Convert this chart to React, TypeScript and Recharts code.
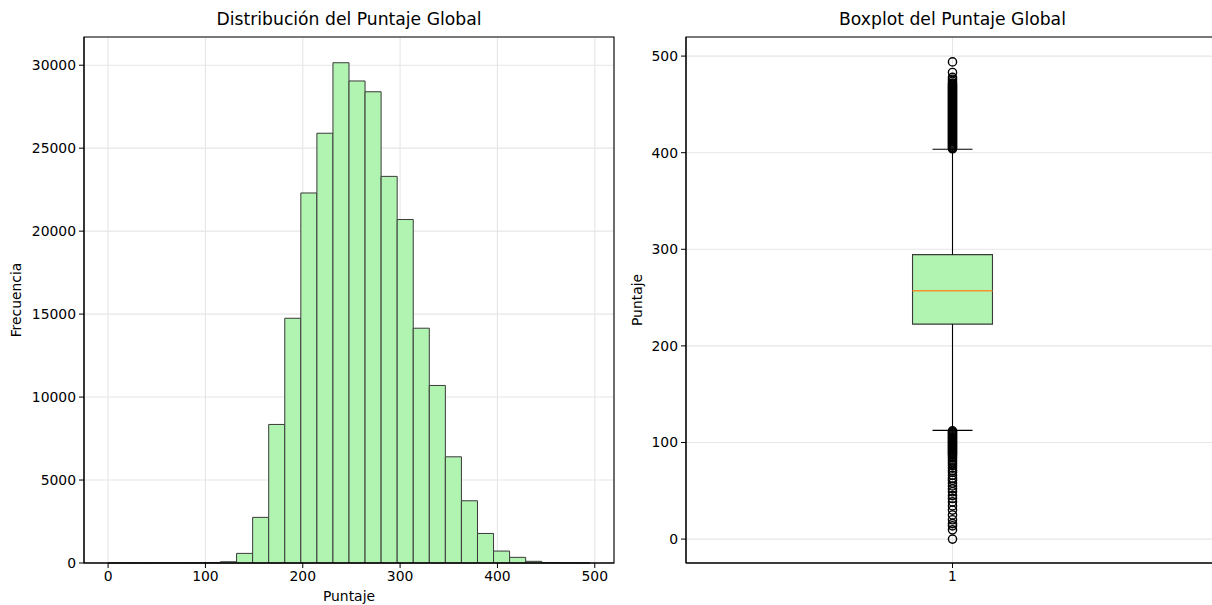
import React from 'react';
import {
  ComposedChart,
  XAxis,
  YAxis,
  CartesianGrid,
  ReferenceArea,
  ReferenceLine,
  Scatter,
  Line,
} from 'recharts';

// ---------- Histogram data ----------
const binStarts = [
  0, 16.5, 33, 49.5, 66, 82.5, 99, 115.5, 132, 148.5, 165, 181.5, 198, 214.5, 231,
  247.5, 264, 280.5, 297, 313.5, 330, 346.5, 363, 379.5, 396, 412.5, 429, 445.5, 462, 478.5,
];
const binEnds = [
  16.5, 33, 49.5, 66, 82.5, 99, 115.5, 132, 148.5, 165, 181.5, 198, 214.5, 231, 247.5,
  264, 280.5, 297, 313.5, 330, 346.5, 363, 379.5, 396, 412.5, 429, 445.5, 462, 478.5, 495,
];
const binCounts = [
  4, 3, 4, 6, 8, 14, 30, 75, 580, 2750, 8350, 14750, 22300, 25900, 30150,
  29050, 28400, 23300, 20700, 14150, 10700, 6400, 3750, 1780, 720, 340, 100, 25, 6, 3,
];
const histXTicks = [0, 100, 200, 300, 400, 500];
const histYTicks = [0, 5000, 10000, 15000, 20000, 25000, 30000];
const histXDomain = [-24.75, 519.75];
const histYDomain = [0, 31700];

// ---------- Boxplot data ----------
const boxCategories = [1];
const boxQ1 = 222.5;
const boxMedian = 257;
const boxQ3 = 294.5;
const whiskerLow = 112.5;
const whiskerHigh = 403.5;
const upperOutliers = [
  404, 405, 406, 407, 408, 409, 410, 411, 412, 413, 414, 415, 416, 417, 418, 419, 420,
  421, 422, 423, 424, 425, 426, 427, 428, 429, 430, 431, 432, 433, 434, 435, 436, 437,
  438, 439, 440, 441, 442, 443, 444, 445, 446, 447, 448, 449, 450, 451, 452, 453, 454,
  455, 456, 457, 458, 459, 460, 461, 462, 463, 464, 465, 466, 467, 468, 469, 470, 471,
  472, 474, 476, 478, 483, 494,
];
const lowerOutliers = [
  112, 111, 110, 109, 108, 107, 106, 105, 104, 103, 102, 101, 100, 99, 98, 97, 96, 95,
  94, 93, 92, 91, 90, 89, 88, 87, 85.5, 84, 82, 80, 78, 76, 73.5, 71, 69, 66, 63, 61,
  58, 55, 52, 49, 45, 42, 38.5, 34.3, 30, 25, 20, 16, 13.7, 9.6, 0,
];
const boxYTicks = [0, 100, 200, 300, 400, 500];
const boxYDomain = [-24.75, 519.75];
const boxXDomain = [0.5, 1.5];

// ---------- styles ----------
const FONT = 'DejaVu Sans, sans-serif';
const tickStyle = { fontFamily: FONT, fontSize: 13.9, fill: '#000' };
const GREEN = '#b1f3b1';
const EDGE = '#3a3a3a';
const GRID = '#e6e6e6';

const histData = binStarts.map((s, i) => ({ mid: (s + binEnds[i]) / 2, count: binCounts[i] }));
const outlierData = [...upperOutliers, ...lowerOutliers].map((v) => ({ x: boxCategories[0], y: v }));

const boxHalf = 0.075;
const capHalf = 0.0375;

const titleStyle = (cx: number): React.CSSProperties => ({
  position: 'absolute',
  left: cx - 200,
  width: 400,
  top: 9,
  textAlign: 'center',
  fontFamily: FONT,
  fontSize: 17.2,
  lineHeight: '20px',
  color: '#000',
});

const circleShape = (p: any) => (
  <circle cx={p.cx} cy={p.cy} r={4.1} fill="none" stroke="#000" strokeWidth={1.4} />
);

export default function App() {
  const x0 = boxCategories[0];
  return (
    <div
      style={{
        position: 'absolute',
        left: 0,
        top: 0,
        width: 1212,
        height: 605,
        overflow: 'hidden',
        background: '#fff',
      }}
    >
      <div style={titleStyle(349)}>Distribución del Puntaje Global</div>
      <div style={titleStyle(952.5)}>Boxplot del Puntaje Global</div>

      {/* Histogram */}
      <div style={{ position: 'absolute', left: 0, top: 0 }}>
        <ComposedChart
          width={620}
          height={605}
          data={histData}
          margin={{ top: 37, right: 6, bottom: 0, left: 0 }}
        >
          <CartesianGrid stroke={GRID} strokeWidth={1.1} />
          <XAxis
            dataKey="mid"
            type="number"
            domain={histXDomain}
            allowDataOverflow
            ticks={histXTicks}
            tick={tickStyle}
            tickSize={5}
            tickMargin={3}
            height={42}
            stroke="#000"
            tickLine={{ stroke: '#000' }}
            label={{ value: 'Puntaje', position: 'insideBottom', offset: 4, style: { fontFamily: FONT, fontSize: 13.9, fill: '#000' } }}
          />
          <YAxis
            type="number"
            domain={histYDomain}
            allowDataOverflow
            ticks={histYTicks}
            tick={tickStyle}
            tickSize={5}
            tickMargin={3}
            width={84}
            stroke="#000"
            tickLine={{ stroke: '#000' }}
            label={{ value: 'Frecuencia', angle: -90, position: 'insideLeft', offset: 16, style: { textAnchor: 'middle', fontFamily: FONT, fontSize: 13.9, fill: '#000' } }}
          />
          <Line dataKey="count" stroke="none" dot={false} activeDot={false} isAnimationActive={false} />
          {binStarts.map((s, i) => (
            <ReferenceArea
              key={i}
              x1={s}
              x2={binEnds[i]}
              y1={0}
              y2={binCounts[i]}
              fill={GREEN}
              fillOpacity={1}
              stroke={EDGE}
              strokeWidth={1}
              ifOverflow="visible"
            />
          ))}
          <ReferenceArea
            x1={histXDomain[0]}
            x2={histXDomain[1]}
            y1={histYDomain[0]}
            y2={histYDomain[1]}
            fill="none"
            stroke="#000"
            strokeWidth={1.1}
            ifOverflow="visible"
          />
        </ComposedChart>
      </div>

      {/* Boxplot */}
      <div style={{ position: 'absolute', left: 620, top: 0 }}>
        <ComposedChart
          width={600}
          height={605}
          margin={{ top: 37, right: 1, bottom: 0, left: 0 }}
        >
          <CartesianGrid stroke={GRID} strokeWidth={1.1} />
          <XAxis
            dataKey="x"
            type="number"
            domain={boxXDomain}
            allowDataOverflow
            ticks={boxCategories}
            tick={tickStyle}
            tickSize={5}
            tickMargin={3}
            height={42}
            stroke="#000"
            tickLine={{ stroke: '#000' }}
          />
          <YAxis
            dataKey="y"
            type="number"
            domain={boxYDomain}
            allowDataOverflow
            ticks={boxYTicks}
            tick={tickStyle}
            tickSize={5}
            tickMargin={3}
            width={66}
            stroke="#000"
            tickLine={{ stroke: '#000' }}
            label={{ value: 'Puntaje', angle: -90, position: 'insideLeft', offset: 17, style: { textAnchor: 'middle', fontFamily: FONT, fontSize: 13.9, fill: '#000' } }}
          />
          <ReferenceLine segment={[{ x: x0, y: boxQ3 }, { x: x0, y: whiskerHigh }]} stroke="#000" strokeWidth={1.1} ifOverflow="visible" />
          <ReferenceLine segment={[{ x: x0, y: whiskerLow }, { x: x0, y: boxQ1 }]} stroke="#000" strokeWidth={1.1} ifOverflow="visible" />
          <ReferenceLine segment={[{ x: x0 - capHalf, y: whiskerHigh }, { x: x0 + capHalf, y: whiskerHigh }]} stroke="#000" strokeWidth={1.1} ifOverflow="visible" />
          <ReferenceLine segment={[{ x: x0 - capHalf, y: whiskerLow }, { x: x0 + capHalf, y: whiskerLow }]} stroke="#000" strokeWidth={1.1} ifOverflow="visible" />
          <ReferenceArea
            x1={x0 - boxHalf}
            x2={x0 + boxHalf}
            y1={boxQ1}
            y2={boxQ3}
            fill={GREEN}
            fillOpacity={1}
            stroke={EDGE}
            strokeWidth={1.1}
            ifOverflow="visible"
          />
          <ReferenceLine segment={[{ x: x0 - boxHalf, y: boxMedian }, { x: x0 + boxHalf, y: boxMedian }]} stroke="#f5922f" strokeWidth={1.6} ifOverflow="visible" />
          <Scatter data={outlierData} dataKey="y" shape={circleShape} isAnimationActive={false} />
          <ReferenceArea
            x1={boxXDomain[0]}
            x2={boxXDomain[1]}
            y1={boxYDomain[0]}
            y2={boxYDomain[1]}
            fill="none"
            stroke="#000"
            strokeWidth={1.1}
            ifOverflow="visible"
          />
        </ComposedChart>
      </div>
    </div>
  );
}
